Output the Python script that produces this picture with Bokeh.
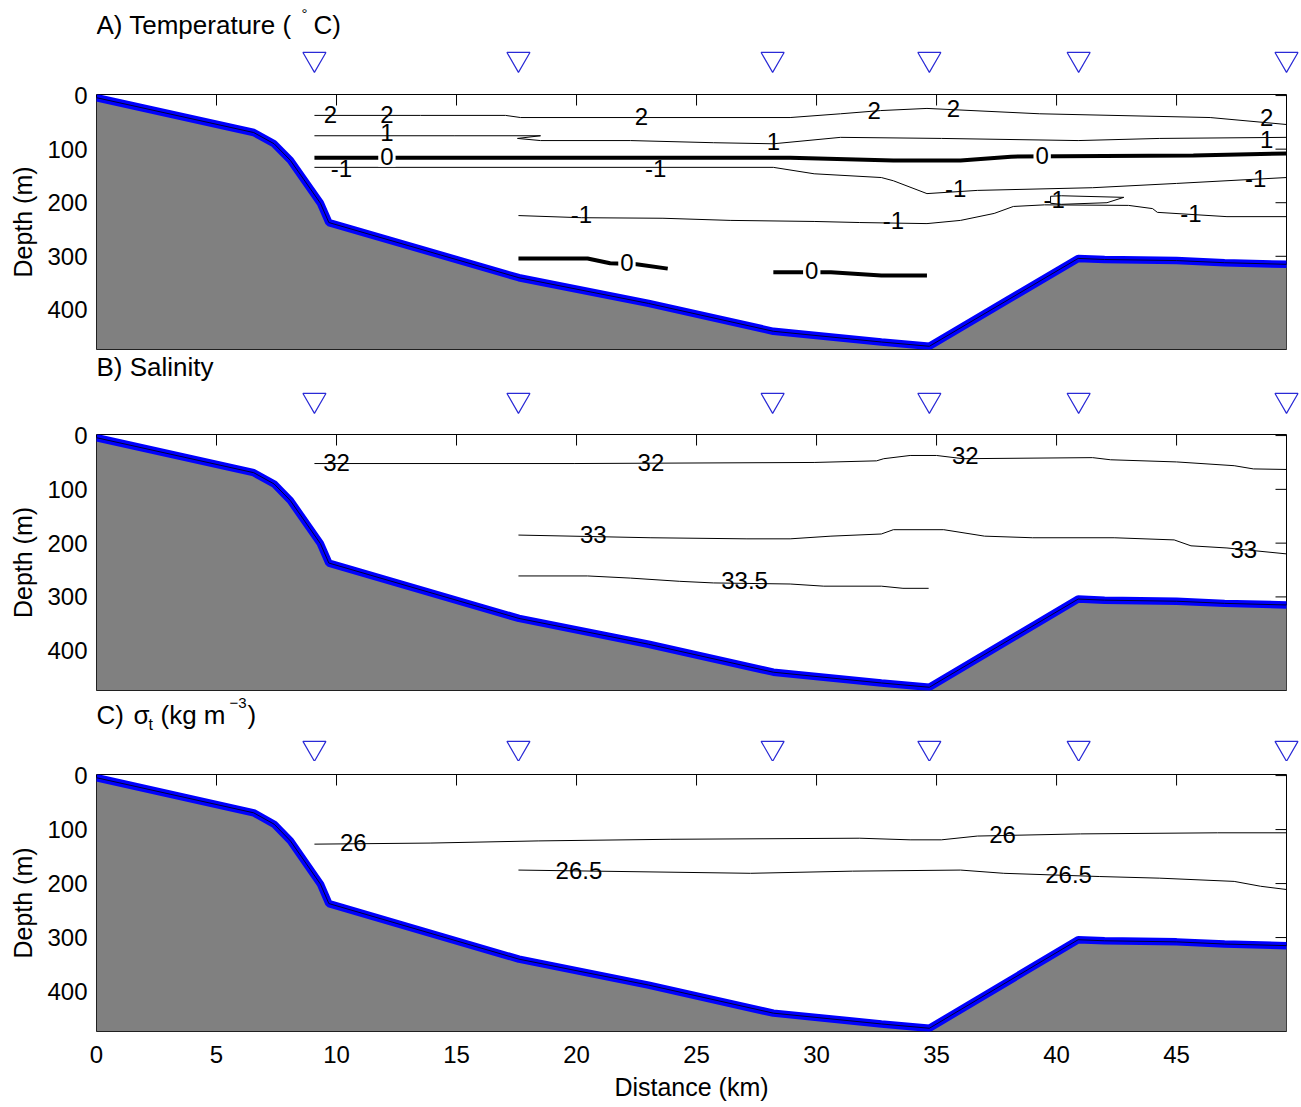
from bokeh.plotting import figure
from bokeh.models import Range1d, FixedTicker
from bokeh.layouts import column
from bokeh.embed import file_html
from bokeh.resources import INLINE
from bokeh.core.properties import value

FONT = "Liberation Sans"

# ---------------- data ----------------
station_km = [9.08, 17.58, 28.17, 34.7, 40.92, 49.58]

bathy_km = [0, 6.55, 7.4, 8.08, 9.33, 9.68, 17.6, 23.0, 28.2, 32.7, 34.7, 40.9, 42.0, 45.0, 47.0, 49.6]
bathy_depth = [4, 69, 90, 121, 201, 237, 340, 388, 440, 460, 468, 304, 306, 308, 312, 315]

x_ticks = [0, 5, 10, 15, 20, 25, 30, 35, 40, 45]
depth_ticks = [0, 100, 200, 300, 400]

# Temperature contours (deg C)
t2_km = [9.08, 13.5, 17.04, 17.67, 28.9, 31.0, 32.67, 34.6, 39.3, 46.4, 49.58]
t2_depth = [37, 37, 37, 41, 41, 34, 28, 24, 34, 41, 54]
t1_km = [9.08, 14.9, 18.5, 17.54, 18.5, 22.25, 25.7, 28.2, 31.0, 35.2, 40.9, 44.3, 49.58]
t1_depth = [75, 75, 75, 80, 84, 84, 88, 90, 78, 80, 84, 80, 78]
t0a_km = [9.08, 21.0, 28.9, 33.2, 36.0, 38.1, 45.7, 49.58]
t0a_depth = [116, 116, 116, 121, 121, 114, 112, 108]
tm1a_km = [9.08, 28.2, 29.9, 32.7, 33.2, 34.6, 36.7, 41.5, 45.0, 49.58]
tm1a_depth = [134, 134, 146, 153, 159, 183, 177, 172, 164, 153]
tm1b_km = [17.58, 20.2, 23.6, 26.4, 29.9, 31.8, 34.6, 36.0, 37.4, 38.2, 39.5, 43.0, 44.0, 44.2, 47.1, 49.58]
tm1b_depth = [224, 228, 229, 233, 235, 237, 239, 233, 220, 207, 204, 205, 211, 218, 226, 226]
tm1c_km = [39.75, 40.2, 42.8, 42.1, 40.2, 39.75, 39.75]
tm1c_depth = [188, 187, 190, 200, 203, 201, 188]
t0b_km = [17.58, 20.46, 21.4, 22.5, 23.8]
t0b_depth = [304, 304, 313, 315, 323]
t0c_km = [28.2, 30.6, 32.7, 34.6]
t0c_depth = [330, 330, 336, 336]
t_label_text = ["2", "2", "2", "2", "2", "2", "1", "1", "1",
                "-1", "-1", "-1", "-1", "-1", "-1", "-1", "-1"]
t_label_km = [9.75, 12.1, 22.7, 32.4, 35.7, 48.75, 12.1, 28.2, 48.75,
              10.2, 23.3, 35.8, 48.3, 20.2, 33.2, 45.6, 39.9]
t_label_depth = [39, 39, 43, 32, 28, 45, 73, 90, 86,
                 140, 140, 177, 159, 226, 237, 224, 198]
t0_label_text = ["0", "0", "0", "0"]
t0_label_km = [12.1, 39.4, 22.1, 29.8]
t0_label_depth = [117, 116, 315, 330]

# Salinity contours
s32_km = [9.08, 19.9, 29.9, 32.5, 32.8, 33.9, 35.0, 36.1, 41.5, 42.25, 45.0, 47.4, 48.2, 49.58]
s32_depth = [52, 52, 50, 47, 43, 37, 37, 43, 41, 45, 49, 56, 62, 63]
s33_km = [17.58, 23.1, 27.1, 28.9, 30.6, 32.7, 33.2, 35.3, 37.0, 39.0, 42.4, 44.9, 45.6, 47.1, 49.58]
s33_depth = [185, 190, 192, 192, 187, 183, 175, 175, 187, 190, 190, 194, 205, 209, 220]
s335_km = [17.58, 20.46, 22.25, 24.3, 25.7, 28.9, 30.3, 32.7, 33.6, 34.67]
s335_depth = [261, 261, 265, 271, 274, 276, 280, 280, 284, 284]
s_label_text = ["32", "32", "32", "33", "33", "33.5"]
s_label_km = [10.0, 23.1, 36.2, 20.7, 47.8, 27.0]
s_label_depth = [53, 54, 41, 188, 215, 274]

# Density (sigma-t) contours
d26_km = [9.08, 13.9, 18.4, 23.9, 31.8, 33.9, 35.2, 36.7, 41.0, 46.7, 49.58]
d26_depth = [127, 125, 121, 118, 116, 119, 119, 112, 108, 106, 106]
d265_km = [17.58, 27.25, 31.5, 36.0, 37.8, 41.8, 44.3, 47.4, 48.5, 49.58]
d265_depth = [175, 181, 177, 175, 181, 187, 190, 196, 205, 211]
d_label_text = ["26", "26", "26.5", "26.5"]
d_label_km = [10.7, 37.75, 20.1, 40.5]
d_label_depth = [127, 112, 179, 187]

# ---------------- layout constants ----------------
W = 1301
LEFT = 96
FRAME_W = 1190
RIGHT = W - LEFT - FRAME_W
X_MAX = 49.58
PX_PER_KM = FRAME_W / X_MAX
X_MAX_STRIP = (W - LEFT) / PX_PER_KM
DEPTH_MAX = 474
DEPTH_MIN = -2
TICK_PX = 11
TRI_COLOR = "#2a2ad6"


def strip(h, pieces, tri_y):
    s = figure(frame_width=W - LEFT, frame_height=h,
               x_range=Range1d(0, X_MAX_STRIP), y_range=Range1d(h, 0),
               toolbar_location=None, output_backend="svg",
               x_axis_location=None, y_axis_location=None,
               min_border_left=LEFT, min_border_right=0, min_border_top=0, min_border_bottom=0)
    s.grid.visible = False
    s.outline_line_color = None
    s.border_fill_color = "white"
    s.scatter(station_km, [tri_y] * len(station_km), marker="inverted_triangle", size=23,
              fill_color=None, line_color=TRI_COLOR, line_width=1.2)
    for txt, xoff, ypix, fs in pieces:
        s.text(x=[0], y=[ypix], text=[txt], x_offset=xoff, text_font=value(FONT),
               text_font_size=fs, text_baseline="alphabetic", text_align="left", text_color="black")
    return s


def panel(frame_h, top_border, bottom_border, show_x, lines, thick_lines, labels, gap_labels=None):
    p = figure(frame_width=FRAME_W, frame_height=frame_h,
               x_range=Range1d(0, X_MAX), y_range=Range1d(DEPTH_MAX, DEPTH_MIN),
               toolbar_location=None, output_backend="svg",
               x_axis_location="below" if show_x else None,
               min_border_left=LEFT, min_border_right=RIGHT, min_border_top=top_border,
               min_border_bottom=bottom_border)
    p.grid.visible = False
    p.outline_line_color = "black"
    p.outline_line_width = 1
    p.border_fill_color = "white"

    ya = p.yaxis[0]
    ya.ticker = FixedTicker(ticks=depth_ticks)
    ya.major_tick_in = 0
    ya.major_tick_out = 0
    ya.minor_tick_line_color = None
    ya.axis_line_color = None
    ya.major_label_text_font = FONT
    ya.major_label_text_font_size = "24px"
    ya.major_label_text_color = "black"
    ya.major_label_standoff = 9
    ya.axis_label = "Depth (m)"
    ya.axis_label_text_font = FONT
    ya.axis_label_text_font_size = "25px"
    ya.axis_label_text_font_style = "normal"
    ya.axis_label_text_color = "black"
    ya.axis_label_standoff = 7

    if show_x:
        xa = p.xaxis[0]
        xa.ticker = FixedTicker(ticks=x_ticks)
        xa.major_tick_in = 0
        xa.major_tick_out = 0
        xa.minor_tick_line_color = None
        xa.axis_line_color = None
        xa.major_label_text_font = FONT
        xa.major_label_text_font_size = "24px"
        xa.major_label_text_color = "black"
        xa.major_label_standoff = 14
        xa.axis_label = "Distance (km)"
        xa.axis_label_text_font = FONT
        xa.axis_label_text_font_size = "25px"
        xa.axis_label_text_font_style = "normal"
        xa.axis_label_text_color = "black"
        xa.axis_label_standoff = 7

    # inward ticks on top and right (drawn first, so the seabed hides those below it)
    m_per_px = (DEPTH_MAX - DEPTH_MIN) / frame_h
    n = len(x_ticks)
    p.segment(x0=x_ticks, y0=[DEPTH_MIN] * n, x1=x_ticks, y1=[DEPTH_MIN + TICK_PX * m_per_px] * n,
              line_color="black", line_width=1)
    k = len(depth_ticks)
    p.segment(x0=[X_MAX - TICK_PX / PX_PER_KM] * k, y0=depth_ticks, x1=[X_MAX] * k, y1=depth_ticks,
              line_color="black", line_width=1)

    for xs, ys in lines:
        p.line(xs, ys, line_color="black", line_width=1)
    for xs, ys in thick_lines:
        p.line(xs, ys, line_color="black", line_width=4)
    txt, xs, ys = labels
    p.text(x=xs, y=ys, text=txt, text_font=value(FONT), text_font_size="24px",
           text_align="center", text_baseline="middle", text_color="black", y_offset=-2)
    if gap_labels is not None:
        txt, xs, ys = gap_labels
        p.text(x=xs, y=ys, text=txt, text_font=value(FONT), text_font_size="24px",
               text_align="center", text_baseline="middle", text_color="black", y_offset=-2,
               background_fill_color="white", padding=2)

    # bathymetry
    p.varea(x=bathy_km, y1=bathy_depth, y2=[DEPTH_MAX] * len(bathy_km), fill_color="#808080")
    p.line(bathy_km, bathy_depth, line_color="#0000ff", line_width=7.5)
    p.line(bathy_km, bathy_depth, line_color="#000033", line_width=1)
    return p


stripA = strip(80, [("A) Temperature (", 0, 24, "26px"), ("\u00b0", 205, 13, "15px"),
                    ("C)", 217, 24, "26px")], 58.6)
panelA = panel(255, 14, 1, False,
               [(t2_km, t2_depth), (t1_km, t1_depth), (tm1a_km, tm1a_depth),
                (tm1b_km, tm1b_depth), (tm1c_km, tm1c_depth)],
               [(t0a_km, t0a_depth), (t0b_km, t0b_depth), (t0c_km, t0c_depth)],
               (t_label_text, t_label_km, t_label_depth),
               (t0_label_text, t0_label_km, t0_label_depth))

stripB = strip(70, [("B) Salinity", 0, 16, "26px")], 49.6)
panelB = panel(256, 14, 1, False,
               [(s32_km, s32_depth), (s33_km, s33_depth), (s335_km, s335_depth)], [],
               (s_label_text, s_label_km, s_label_depth))

stripC = strip(70, [("C)", 0, 23, "26px"), ("\u03c3", 37, 23, "26px"), ("t", 52, 33, "16px"),
                    ("(kg m", 64, 23, "26px"), ("\u22123", 133, 11, "15px"),
                    (")", 151, 23, "26px")], 56.5)
panelC = panel(257, 13, 66, True,
               [(d26_km, d26_depth), (d265_km, d265_depth)], [],
               (d_label_text, d_label_km, d_label_depth))

layout = column(stripA, panelA, stripB, panelB, stripC, panelC, spacing=0)

with open("out.html", "w") as f:
    f.write(file_html(layout, INLINE))
